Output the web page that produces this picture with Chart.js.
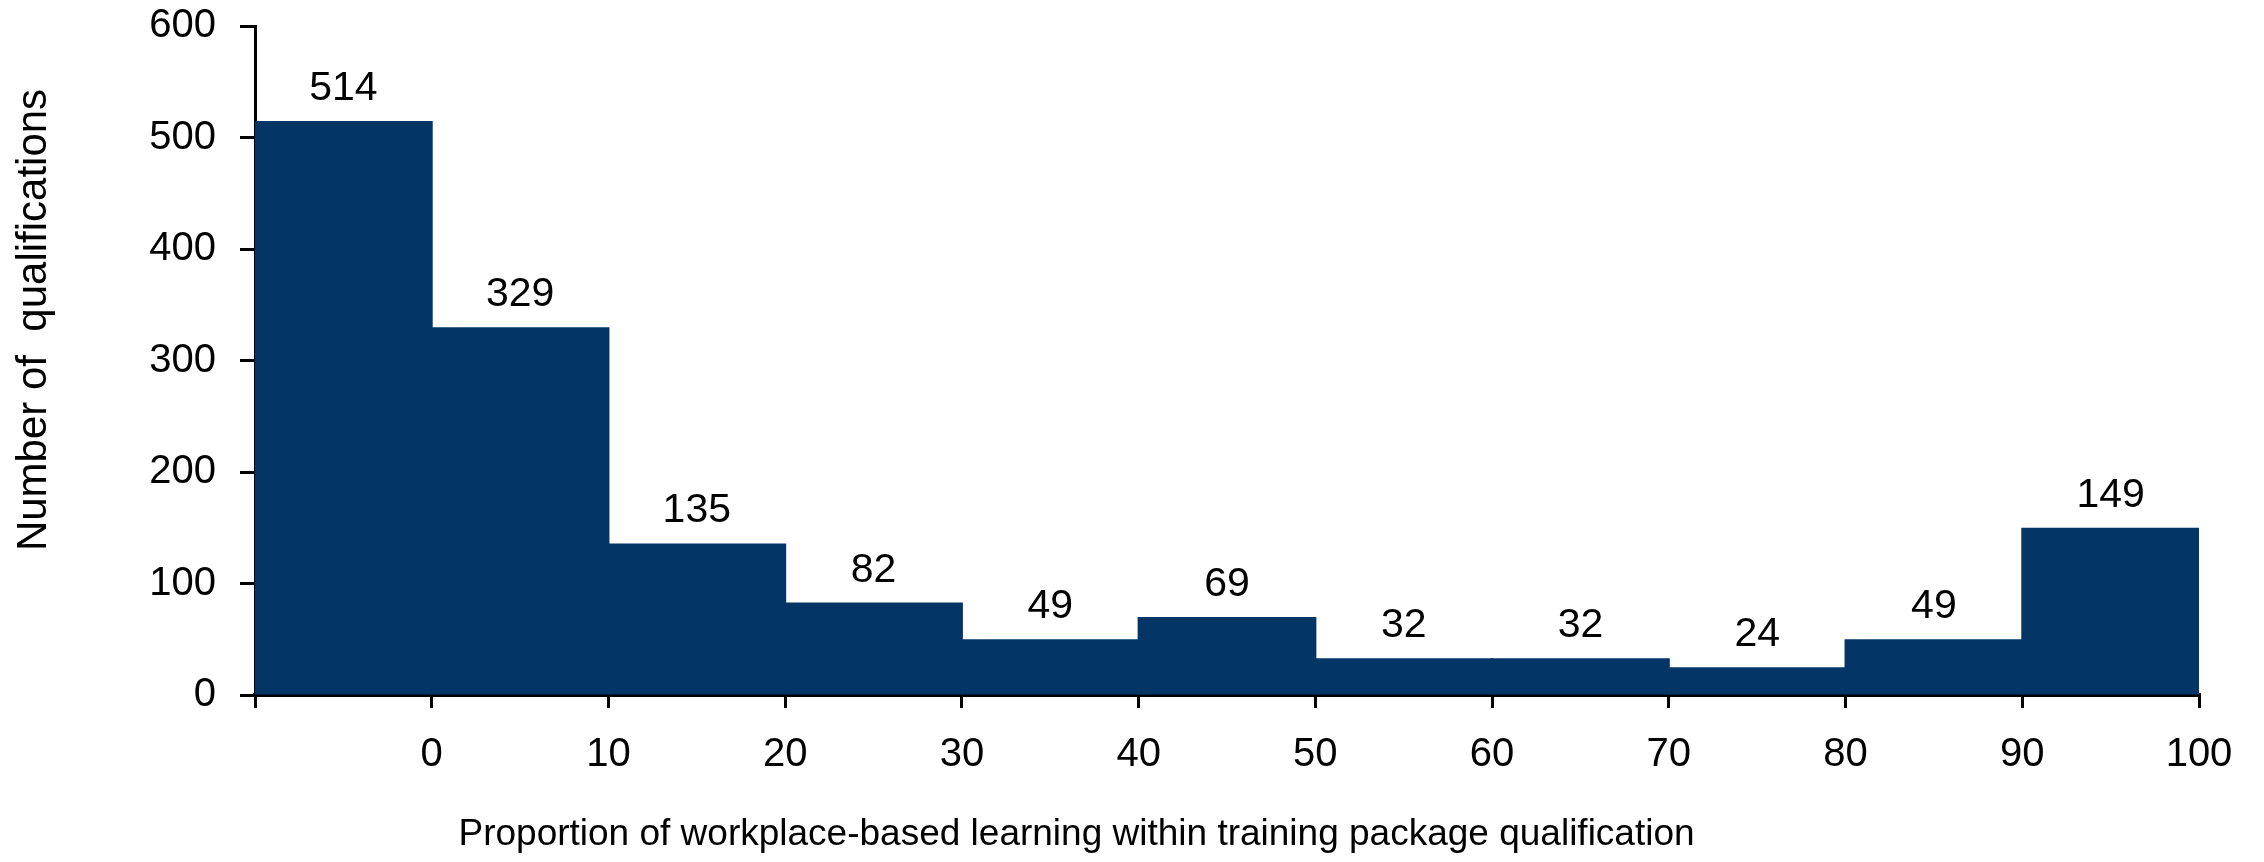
<!DOCTYPE html>
<html>
<head>
<meta charset="utf-8">
<script src="https://cdn.jsdelivr.net/npm/chart.js@4.4.1/dist/chart.umd.min.js"></script>
<style>
  html, body { margin: 0; padding: 0; background: #fff; }
  #wrap { width: 2264px; height: 862px; }
</style>
</head>
<body>
<div id="wrap"><canvas id="chart" width="2264" height="862"></canvas></div>
<script>
// bin centres (first bin = exactly 0%), counts per bin
const binCentres = [-5, 5, 15, 25, 35, 45, 55, 65, 75, 85, 95];
const counts = [514, 329, 135, 82, 49, 69, 32, 32, 24, 49, 149];
const xTickLabels = { "-10": "", 0: "0", 10: "10", 20: "20", 30: "30", 40: "40", 50: "50", 60: "60", 70: "70", 80: "80", 90: "90", 100: "100" };
const yTicks = [0, 100, 200, 300, 400, 500, 600];

const xTitle = "Proportion of workplace-based learning within training package qualification";
const yTitle = "Number of  qualifications";

const FONT = "'Liberation Sans', Arial, sans-serif";

// value labels above bars
const barLabels = {
  id: "barLabels",
  afterDatasetsDraw(chart) {
    const ctx = chart.ctx;
    const meta = chart.getDatasetMeta(0);
    ctx.save();
    ctx.font = "41px " + FONT;
    ctx.fillStyle = "#000";
    ctx.textAlign = "center";
    ctx.textBaseline = "alphabetic";
    meta.data.forEach((bar, i) => {
      ctx.fillText(String(counts[i]), bar.x, bar.y - 22);
    });
    ctx.restore();
  }
};

// axis titles (placed like the original, not centred on the plot)
const axisTitles = {
  id: "axisTitles",
  afterDraw(chart) {
    const ctx = chart.ctx;
    ctx.save();
    ctx.fillStyle = "#000";
    ctx.textAlign = "center";
    ctx.textBaseline = "middle";
    ctx.font = "37px " + FONT;
    ctx.fillText(xTitle, chart.width * 0.4755, 835);
    ctx.font = "42px " + FONT;
    ctx.translate(34, 320);
    ctx.rotate(-Math.PI / 2);
    ctx.fillText(yTitle, 0, 0);
    ctx.restore();
  }
};

new Chart(document.getElementById("chart"), {
  type: "bar",
  data: {
    datasets: [{
      data: binCentres.map((x, i) => ({ x: x, y: counts[i] })),
      backgroundColor: "#033666",
      borderWidth: 0,
      inflateAmount: 1,
      barPercentage: 1,
      categoryPercentage: 1
    }]
  },
  options: {
    responsive: false,
    animation: false,
    devicePixelRatio: 1,
    layout: { padding: { top: 26, right: 65, left: 0, bottom: 0 } },
    plugins: { legend: { display: false }, tooltip: { enabled: false } },
    scales: {
      x: {
        type: "linear",
        min: -10,
        max: 100,
        offset: false,
        afterFit: s => { s.height = 167; s.paddingLeft = 0; s.paddingRight = 0; },
        afterBuildTicks: s => { s.ticks = Object.keys(xTickLabels).map(v => ({ value: Number(v) })); },
        ticks: {
          autoSkip: false,
          maxRotation: 0,
          padding: 23,
          color: "#000",
          font: { family: FONT, size: 40 },
          callback: v => xTickLabels[v]
        },
        grid: { offset: false, drawOnChartArea: false, drawTicks: true, tickLength: 13, color: "#000", lineWidth: 3 },
        border: { display: true, color: "#000", width: 4 }
      },
      y: {
        min: 0,
        max: 600,
        afterFit: s => { s.width = 255; s.paddingTop = 0; s.paddingBottom = 0; },
        afterBuildTicks: s => { s.ticks = yTicks.map(v => ({ value: v })); },
        ticks: {
          padding: 24,
          color: "#000",
          font: { family: FONT, size: 40 }
        },
        grid: { drawOnChartArea: false, drawTicks: true, tickLength: 15, color: "#000", lineWidth: 3 },
        border: { display: true, color: "#000", width: 3 }
      }
    }
  },
  plugins: [barLabels, axisTitles]
});
</script>
</body>
</html>
